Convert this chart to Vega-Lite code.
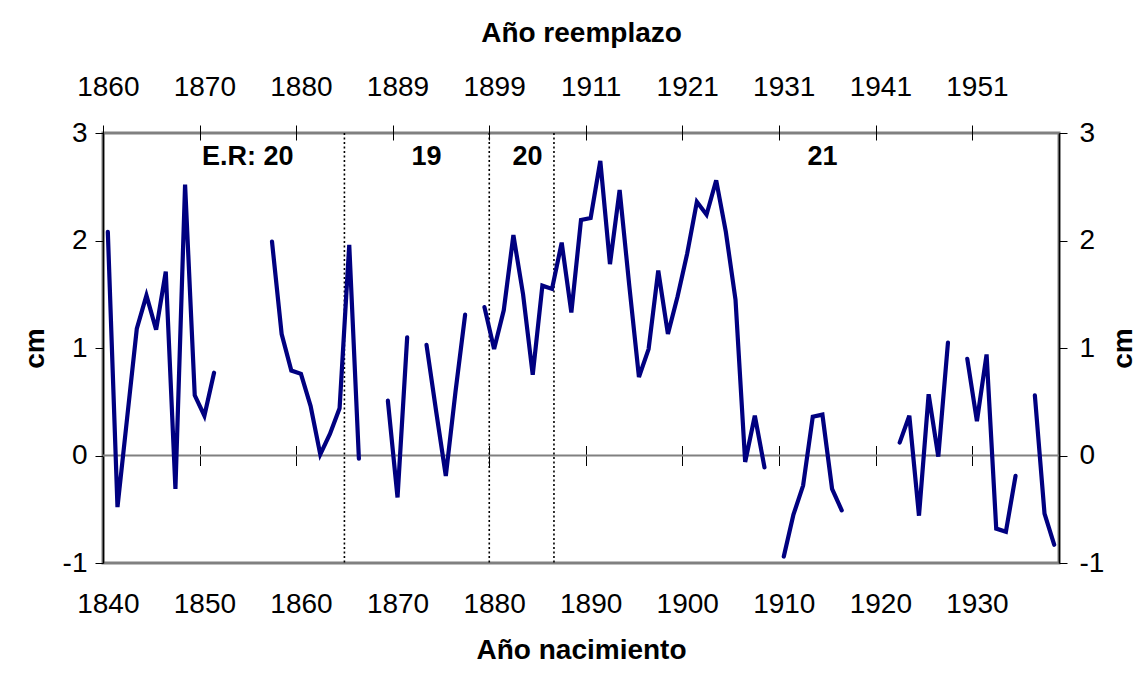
{
  "$schema": "https://vega.github.io/schema/vega-lite/v6.json",
  "width": 956,
  "height": 430,
  "autosize": {"type": "none"},
  "padding": {"left": 103, "top": 133, "right": 82, "bottom": 112},
  "background": "white",
  "config": {
    "view": {"stroke": "#808080", "strokeWidth": 3},
    "font": "Liberation Sans",
    "axis": {"grid": false, "labelColor": "#000000", "titleColor": "#000000", "tickColor": "#000000", "domainColor": "#000000", "labelFont": "Liberation Sans", "titleFont": "Liberation Sans"}
  },
  "datasets": {
    "series": [
      {"year": 1840, "cm": 2.08, "seg": 1},
      {"year": 1841, "cm": -0.48, "seg": 1},
      {"year": 1842, "cm": 0.35, "seg": 1},
      {"year": 1843, "cm": 1.18, "seg": 1},
      {"year": 1844, "cm": 1.49, "seg": 1},
      {"year": 1845, "cm": 1.17, "seg": 1},
      {"year": 1846, "cm": 1.71, "seg": 1},
      {"year": 1847, "cm": -0.31, "seg": 1},
      {"year": 1848, "cm": 2.52, "seg": 1},
      {"year": 1849, "cm": 0.56, "seg": 1},
      {"year": 1850, "cm": 0.37, "seg": 1},
      {"year": 1851, "cm": 0.77, "seg": 1},
      {"year": 1857, "cm": 1.99, "seg": 2},
      {"year": 1858, "cm": 1.13, "seg": 2},
      {"year": 1859, "cm": 0.79, "seg": 2},
      {"year": 1860, "cm": 0.76, "seg": 2},
      {"year": 1861, "cm": 0.46, "seg": 2},
      {"year": 1862, "cm": 0.01, "seg": 2},
      {"year": 1863, "cm": 0.2, "seg": 2},
      {"year": 1864, "cm": 0.44, "seg": 2},
      {"year": 1865, "cm": 1.96, "seg": 2},
      {"year": 1866, "cm": -0.03, "seg": 2},
      {"year": 1869, "cm": 0.51, "seg": 3},
      {"year": 1870, "cm": -0.39, "seg": 3},
      {"year": 1871, "cm": 1.1, "seg": 3},
      {"year": 1873, "cm": 1.03, "seg": 4},
      {"year": 1874, "cm": 0.41, "seg": 4},
      {"year": 1875, "cm": -0.19, "seg": 4},
      {"year": 1876, "cm": 0.59, "seg": 4},
      {"year": 1877, "cm": 1.31, "seg": 4},
      {"year": 1879, "cm": 1.38, "seg": 5},
      {"year": 1880, "cm": 0.99, "seg": 5},
      {"year": 1881, "cm": 1.35, "seg": 5},
      {"year": 1882, "cm": 2.05, "seg": 5},
      {"year": 1883, "cm": 1.5, "seg": 5},
      {"year": 1884, "cm": 0.75, "seg": 5},
      {"year": 1885, "cm": 1.58, "seg": 5},
      {"year": 1886, "cm": 1.55, "seg": 5},
      {"year": 1887, "cm": 1.98, "seg": 5},
      {"year": 1888, "cm": 1.33, "seg": 5},
      {"year": 1889, "cm": 2.19, "seg": 5},
      {"year": 1890, "cm": 2.21, "seg": 5},
      {"year": 1891, "cm": 2.74, "seg": 5},
      {"year": 1892, "cm": 1.78, "seg": 5},
      {"year": 1893, "cm": 2.47, "seg": 5},
      {"year": 1894, "cm": 1.58, "seg": 5},
      {"year": 1895, "cm": 0.73, "seg": 5},
      {"year": 1896, "cm": 0.99, "seg": 5},
      {"year": 1897, "cm": 1.72, "seg": 5},
      {"year": 1898, "cm": 1.13, "seg": 5},
      {"year": 1899, "cm": 1.48, "seg": 5},
      {"year": 1900, "cm": 1.88, "seg": 5},
      {"year": 1901, "cm": 2.36, "seg": 5},
      {"year": 1902, "cm": 2.24, "seg": 5},
      {"year": 1903, "cm": 2.56, "seg": 5},
      {"year": 1904, "cm": 2.08, "seg": 5},
      {"year": 1905, "cm": 1.45, "seg": 5},
      {"year": 1906, "cm": -0.06, "seg": 5},
      {"year": 1907, "cm": 0.37, "seg": 5},
      {"year": 1908, "cm": -0.11, "seg": 5},
      {"year": 1910, "cm": -0.94, "seg": 6},
      {"year": 1911, "cm": -0.55, "seg": 6},
      {"year": 1912, "cm": -0.28, "seg": 6},
      {"year": 1913, "cm": 0.36, "seg": 6},
      {"year": 1914, "cm": 0.38, "seg": 6},
      {"year": 1915, "cm": -0.31, "seg": 6},
      {"year": 1916, "cm": -0.51, "seg": 6},
      {"year": 1922, "cm": 0.12, "seg": 7},
      {"year": 1923, "cm": 0.37, "seg": 7},
      {"year": 1924, "cm": -0.56, "seg": 7},
      {"year": 1925, "cm": 0.57, "seg": 7},
      {"year": 1926, "cm": -0.01, "seg": 7},
      {"year": 1927, "cm": 1.05, "seg": 7},
      {"year": 1929, "cm": 0.9, "seg": 8},
      {"year": 1930, "cm": 0.32, "seg": 8},
      {"year": 1931, "cm": 0.94, "seg": 8},
      {"year": 1932, "cm": -0.68, "seg": 8},
      {"year": 1933, "cm": -0.71, "seg": 8},
      {"year": 1934, "cm": -0.19, "seg": 8},
      {"year": 1936, "cm": 0.56, "seg": 9},
      {"year": 1937, "cm": -0.54, "seg": 9},
      {"year": 1938, "cm": -0.83, "seg": 9}
    ],
    "dividers": [{"x": 1864.5}, {"x": 1879.5}, {"x": 1886.2}],
    "zero": [{"v": 0}],
    "notes": [
      {"label": "E.R: 20", "x": 1854.5, "y": 2.78},
      {"label": "19", "x": 1873.0, "y": 2.78},
      {"label": "20", "x": 1883.45, "y": 2.78},
      {"label": "21", "x": 1914.0, "y": 2.78}
    ]
  },
  "layer": [
    {
      "data": {"name": "zero"},
      "mark": {"type": "rule", "color": "#808080", "strokeWidth": 2},
      "encoding": {
        "y": {
          "field": "v", "type": "quantitative",
          "scale": {"domain": [-1, 3], "nice": false, "zero": false},
          "axis": {
            "orient": "right", "values": [-1, 0, 1, 2, 3],
            "labelExpr": "datum.value < 0 ? '-' + abs(datum.value) : '' + datum.value",
            "domainColor": "#000000", "domainWidth": 1.5, "tickSize": 8, "tickWidth": 1,
            "labelFontSize": 28, "labelPadding": 12, "labelFlush": false, "labelOverlap": false,
            "title": "cm", "titleFontSize": 28, "titleFontWeight": "bold", "titleAngle": -90,
            "titleX": 64, "titleY": 215, "titleBaseline": "middle", "titleAlign": "center"
          }
        }
      }
    },
    {
      "data": {"name": "dividers"},
      "mark": {"type": "rule", "color": "#000000", "strokeWidth": 1.6, "strokeDash": [2, 2.5]},
      "encoding": {
        "x": {
          "field": "x", "type": "quantitative",
          "scale": {"domain": [1839.5, 1938.5], "nice": false, "zero": false},
          "axis": {
            "orient": "bottom", "offset": -117.5, "values": [1849.5, 1859.5, 1869.5, 1879.5, 1889.5, 1899.5, 1909.5, 1919.5, 1929.5],
            "domain": false, "labels": false, "ticks": true, "tickSize": 20, "tickWidth": 1, "tickColor": "#000000", "title": null
          }
        }
      }
    },
    {
      "data": {"name": "series"},
      "mark": {"type": "line", "color": "#000080", "strokeWidth": 4.2, "strokeJoin": "miter", "strokeCap": "round"},
      "encoding": {
        "x": {
          "field": "year", "type": "quantitative",
          "scale": {"domain": [1839.5, 1938.5], "nice": false, "zero": false},
          "axis": {
            "orient": "bottom", "values": [1840, 1850, 1860, 1870, 1880, 1890, 1900, 1910, 1920, 1930], "format": "d",
            "domain": false, "ticks": false, "tickSize": 0, "labelFontSize": 28, "labelBaseline": "middle", "labelPadding": 41,
            "labelFlush": false, "labelOverlap": false,
            "title": "Año nacimiento", "titleFontSize": 28, "titleFontWeight": "bold", "titleBaseline": "middle", "titleY": 87
          }
        },
        "y": {
          "field": "cm", "type": "quantitative",
          "scale": {"domain": [-1, 3], "nice": false, "zero": false},
          "axis": {
            "orient": "left", "values": [-1, 0, 1, 2, 3],
            "labelExpr": "datum.value < 0 ? '-' + abs(datum.value) : '' + datum.value",
            "domainColor": "#000000", "domainWidth": 1.5, "tickSize": 8, "tickWidth": 1,
            "labelFontSize": 28, "labelPadding": 8, "labelFlush": false, "labelOverlap": false,
            "title": "cm", "titleFontSize": 28, "titleFontWeight": "bold", "titleAngle": -90,
            "titleX": -68, "titleY": 215, "titleBaseline": "middle", "titleAlign": "center"
          }
        },
        "detail": {"field": "seg", "type": "nominal"}
      }
    },
    {
      "data": {"name": "notes"},
      "mark": {"type": "text", "font": "Liberation Sans", "fontWeight": "bold", "fontSize": 27, "color": "#000000", "baseline": "middle", "align": "center"},
      "encoding": {
        "x": {
          "field": "x", "type": "quantitative",
          "scale": {"domain": [1839.5, 1938.5], "nice": false, "zero": false},
          "axis": {
            "orient": "top", "offset": -7, "values": [1839.5, 1849.5, 1859.5, 1869.5, 1879.5, 1889.5, 1899.5, 1909.5, 1919.5, 1929.5],
            "labelExpr": "['1860','1870','1880','1889','1899','1911','1921','1931','1941','1951'][round((datum.value - 1839.5) / 10)]",
            "labelOffset": 4.8, "domain": false, "ticks": true, "tickSize": 15, "tickWidth": 1, "tickColor": "#000000",
            "labelFontSize": 28, "labelBaseline": "middle", "labelPadding": 38, "labelFlush": false, "labelOverlap": false,
            "title": "Año reemplazo", "titleFontSize": 28, "titleFontWeight": "bold", "titleBaseline": "middle", "titleY": -107
          }
        },
        "y": {"field": "y", "type": "quantitative", "scale": {"domain": [-1, 3], "nice": false, "zero": false}, "axis": null},
        "text": {"field": "label", "type": "nominal"}
      }
    }
  ],
  "resolve": {"axis": {"x": "independent", "y": "independent"}}
}
